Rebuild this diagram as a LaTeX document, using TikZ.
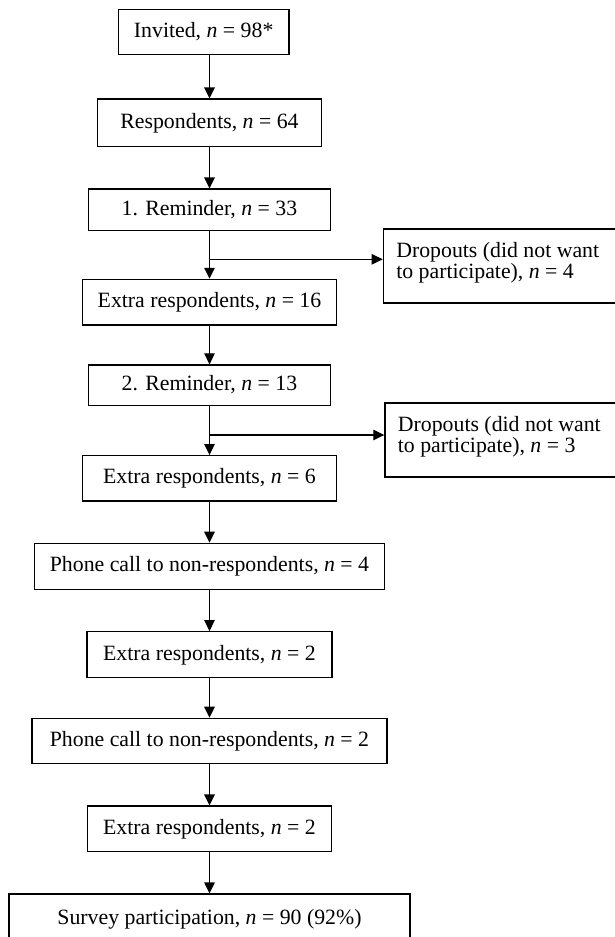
\documentclass[tikz,border=0pt]{standalone}
\usepackage{fontspec}
\setmainfont{Liberation Serif}
\usetikzlibrary{arrows.meta}

\begin{document}
\begin{tikzpicture}[x=1pt, y=-1pt, line width=1.2pt,
	flowbox/.style={draw, rectangle, inner sep=0pt, text height=15pt, text depth=4pt, font=\fontsize{21.8}{21}\selectfont},
	dropbox/.style={draw, rectangle, anchor=north west, inner xsep=13pt, inner ysep=0pt, text width=232pt, align=flush left, minimum height=74pt, text depth=31.5pt, font=\fontsize{21.8}{21}\selectfont},
	flowarrow/.style={-{Triangle[length=11pt,width=10.5pt]}}]
			\useasboundingbox (0,0) rectangle (615,937);
			\node[flowbox, minimum width=170.7pt, minimum height=45pt] (invited) at (203.7,31.8) {Invited, \textit{n} = 98*};
			\node[flowbox, minimum width=224pt, minimum height=47.7pt] (resp) at (209.5,122.9) {Respondents, \textit{n} = 64};
			\node[flowbox, minimum width=242.4pt, minimum height=41.7pt] (rem1) at (209.5,209.9) {1. Reminder, \textit{n} = 33};
			\node[flowbox, minimum width=254pt, minimum height=45.7pt] (ext16) at (209.5,302.2) {Extra respondents, \textit{n} = 16};
			\node[flowbox, minimum width=242.4pt, minimum height=40.7pt] (rem2) at (209.5,385.3) {2. Reminder, \textit{n} = 13};
			\node[flowbox, minimum width=254pt, minimum height=45.3pt] (ext6) at (209.5,478.3) {Extra respondents, \textit{n} = 6};
			\node[flowbox, minimum width=349.3pt, minimum height=46pt] (phone4) at (209.5,566.3) {Phone call to non-respondents, \textit{n} = 4};
			\node[flowbox, minimum width=245pt, minimum height=45.6pt] (ext2a) at (209.5,654.5) {Extra respondents, \textit{n} = 2};
			\node[flowbox, minimum width=355pt, minimum height=45pt] (phone2) at (209.5,740.8) {Phone call to non-respondents, \textit{n} = 2};
			\node[flowbox, minimum width=244.4pt, minimum height=45.7pt] (ext2b) at (209.5,828.9) {Extra respondents, \textit{n} = 2};
			\node[flowbox, minimum width=401pt, minimum height=50pt] (survey) at (209.5,919) {Survey participation, \textit{n} = 90 (92\%)};
			\node[dropbox] (drop1) at (382.7,228.3) {Dropouts (did not want\\to participate), \textit{n} = 4};
			\node[dropbox] (drop2) at (384.3,402.3) {Dropouts (did not want\\to participate), \textit{n} = 3};
			\coordinate (b1) at (209.5,259.3);
			\coordinate (b2) at (209.5,435);
			\draw[flowarrow] (invited.south -| resp.north) -- (resp.north);
			\draw[flowarrow] (resp.south) -- (rem1.north);
			\draw[flowarrow] (rem1.south) -- (ext16.north);
			\draw[flowarrow] (b1) -- (b1 -| drop1.west);
			\draw[flowarrow] (ext16.south) -- (rem2.north);
			\draw[flowarrow] (rem2.south) -- (ext6.north);
			\draw[flowarrow] (b2) -- (b2 -| drop2.west);
			\draw[flowarrow] (ext6.south) -- (phone4.north);
			\draw[flowarrow] (phone4.south) -- (ext2a.north);
			\draw[flowarrow] (ext2a.south) -- (phone2.north);
			\draw[flowarrow] (phone2.south) -- (ext2b.north);
			\draw[flowarrow] (ext2b.south) -- (survey.north);
		\end{tikzpicture}
\end{document}
